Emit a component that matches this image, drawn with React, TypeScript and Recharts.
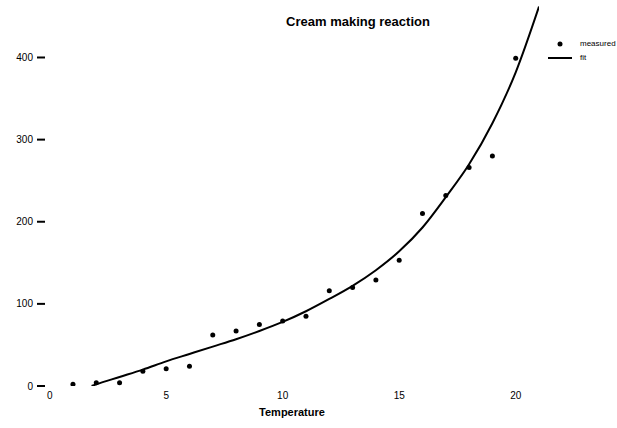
import React from 'react';
import { ComposedChart, Line, Scatter, XAxis, YAxis } from 'recharts';

// measured points
const temps = [1, 2, 3, 4, 5, 6, 7, 8, 9, 10, 11, 12, 13, 14, 15, 16, 17, 18, 19, 20];
const measured = [2, 4, 4, 18, 21, 24, 62, 67, 75, 79, 85, 116, 120, 129, 153, 210, 232, 266, 280, 399];

// fitted curve
const fitTemps = [1.8, 2, 3, 4, 5, 6, 7, 8, 9, 10, 11, 12, 13, 14, 15, 16, 17, 18, 19, 20, 21];
const fitValues = [0, 2, 11, 20, 30, 39, 48, 57, 67, 78, 91, 106, 122, 141, 164, 193, 230, 270, 320, 382, 462];

const xTicks = [0, 5, 10, 15, 20];
const yTicks = [0, 100, 200, 300, 400];

const pointData = temps.map((x, i) => ({ x, y: measured[i] }));
const fitData = fitTemps.map((x, i) => ({ x, y: fitValues[i] }));

const font = 'Arial, "Liberation Sans", sans-serif';

const Dot = (props: any) => {
    const { cx, cy } = props;
    if (cx == null || cy == null) return null;
    return <circle cx={cx} cy={cy} r={2.5} fill="#000" />;
};

const App: React.FC = () => {
    return (
        <div style={{ position: 'absolute', left: 0, top: 0, width: 617, height: 428, background: '#fff', fontFamily: font }}>
            <div style={{ position: 'absolute', left: 258, width: 200, top: 14, textAlign: 'center', fontSize: 13, fontWeight: 'bold' }}>
                Cream making reaction
            </div>
            <ComposedChart width={617} height={428} margin={{ top: 0, right: 78, bottom: 2, left: 0 }}>
                <XAxis
                    type="number"
                    dataKey="x"
                    domain={[-0.2, 21]}
                    ticks={xTicks}
                    allowDataOverflow
                    axisLine={false}
                    tickLine={false}
                    height={40}
                    tick={{ fill: '#000', fontSize: 10, fontFamily: font }}
                    tickMargin={0}
                    label={{ value: 'Temperature', position: 'insideBottom', offset: 10, fill: '#000', fontSize: 11, fontWeight: 'bold', fontFamily: font }}
                />
                <YAxis
                    type="number"
                    dataKey="y"
                    domain={[0, 470]}
                    ticks={yTicks}
                    allowDataOverflow
                    axisLine={false}
                    tickLine={{ stroke: '#000', strokeWidth: 2 }}
                    tickSize={8}
                    tickMargin={4}
                    width={45}
                    tick={{ fill: '#000', fontSize: 10, fontFamily: font }}
                />
                <Line data={fitData} dataKey="y" type="monotone" stroke="#000" strokeWidth={2} dot={false} isAnimationActive={false} />
                <Scatter data={pointData} dataKey="y" fill="#000" shape={Dot} isAnimationActive={false} />
            </ComposedChart>
            <div style={{ position: 'absolute', left: 546, top: 37, fontSize: 8, lineHeight: '14px' }}>
                <div style={{ display: 'flex', alignItems: 'center' }}>
                    <svg width={30} height={14}><circle cx={14} cy={7} r={2.5} fill="#000" /></svg>
                    <span style={{ marginLeft: 4 }}>measured</span>
                </div>
                <div style={{ display: 'flex', alignItems: 'center' }}>
                    <svg width={30} height={14}><line x1={2} y1={7} x2={26} y2={7} stroke="#000" strokeWidth={2} /></svg>
                    <span style={{ marginLeft: 4 }}>fit</span>
                </div>
            </div>
        </div>
    );
};

export default App;
